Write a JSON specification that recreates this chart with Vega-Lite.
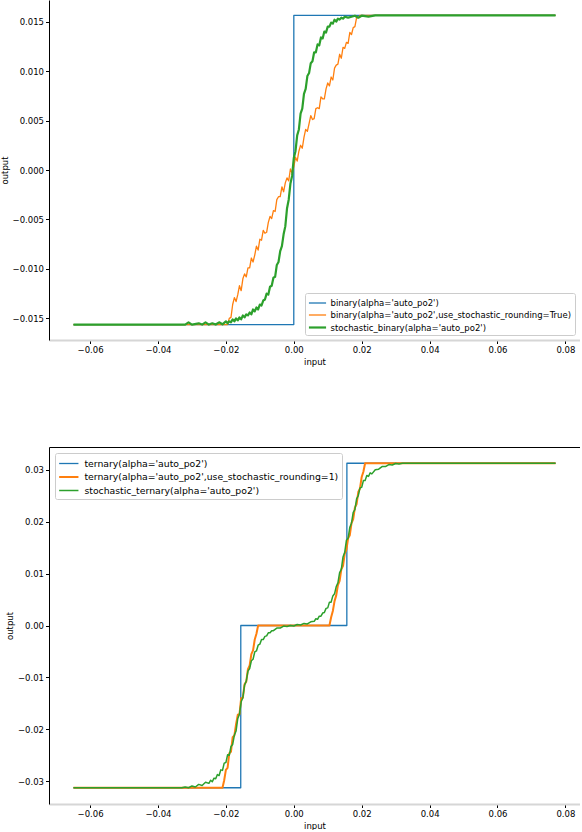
{
  "$schema": "https://vega.github.io/schema/vega-lite/v6.json",
  "padding": 0,
  "background": "white",
  "spacing": 107,
  "bounds": "flush",
  "config": {
    "font": "DejaVu Sans",
    "view": {"stroke": null},
    "line": {"strokeJoin": "round"},
    "axis": {
      "labelFont": "DejaVu Sans", "labelFontSize": 8.5, "labelColor": "black",
      "titleFont": "DejaVu Sans", "titleFontSize": 8.5, "titleFontWeight": "normal", "titleColor": "black",
      "grid": false, "tickColor": "black", "tickSize": 3.5, "tickWidth": 1,
      "domainColor": "black", "labelPadding": 2
    },
    "axisX": {"titlePadding": 3},
    "axisY": {"titlePadding": 3},
    "legend": {
      "title": null,
      "labelFont": "DejaVu Sans", "labelColor": "black", "labelLimit": 500,
      "fillColor": "rgba(255,255,255,0.85)", "strokeColor": "#cccccc", "cornerRadius": 2,
      "padding": 3, "offset": 5.5
    }
  },
  "resolve": {
    "scale": {"color": "independent", "strokeWidth": "independent", "x": "independent", "y": "independent"},
    "legend": {"color": "independent", "strokeWidth": "independent"}
  },
  "datasets": {
    "names": [
      {"k": "ba", "name": "binary(alpha='auto_po2')"},
      {"k": "bs", "name": "binary(alpha='auto_po2',use_stochastic_rounding=True)"},
      {"k": "sb", "name": "stochastic_binary(alpha='auto_po2')"},
      {"k": "ta", "name": "ternary(alpha='auto_po2')"},
      {"k": "ts", "name": "ternary(alpha='auto_po2',use_stochastic_rounding=1)"},
      {"k": "st", "name": "stochastic_ternary(alpha='auto_po2')"}
    ],
    "top": [
      {"k":"ba","x":-0.0649,"y":-0.015625},{"k":"ba","x":0.0,"y":-0.015625},{"k":"ba","x":0.00001,"y":0.015625},{"k":"ba","x":0.0771,"y":0.015625},
      {"k":"bs","x":-0.0649,"y":-0.015625},{"k":"bs","x":-0.0195,"y":-0.015625},{"k":"bs","x":-0.0190,"y":-0.0150},{"k":"bs","x":-0.0185,"y":-0.0149},{"k":"bs","x":-0.0180,"y":-0.0136},{"k":"bs","x":-0.0175,"y":-0.0129},{"k":"bs","x":-0.0170,"y":-0.0133},{"k":"bs","x":-0.0165,"y":-0.0126},{"k":"bs","x":-0.0160,"y":-0.0117},{"k":"bs","x":-0.0155,"y":-0.0122},{"k":"bs","x":-0.0150,"y":-0.0110},{"k":"bs","x":-0.0145,"y":-0.0105},{"k":"bs","x":-0.0140,"y":-0.0108},{"k":"bs","x":-0.0135,"y":-0.0099},{"k":"bs","x":-0.0130,"y":-0.0099},{"k":"bs","x":-0.0125,"y":-0.0089},{"k":"bs","x":-0.0120,"y":-0.0093},{"k":"bs","x":-0.0115,"y":-0.0086},{"k":"bs","x":-0.0110,"y":-0.0077},{"k":"bs","x":-0.0105,"y":-0.0081},{"k":"bs","x":-0.0100,"y":-0.0070},{"k":"bs","x":-0.0095,"y":-0.0071},{"k":"bs","x":-0.0090,"y":-0.0061},{"k":"bs","x":-0.0085,"y":-0.0064},{"k":"bs","x":-0.0080,"y":-0.0063},{"k":"bs","x":-0.0075,"y":-0.0053},{"k":"bs","x":-0.0070,"y":-0.0047},{"k":"bs","x":-0.0065,"y":-0.0049},{"k":"bs","x":-0.0060,"y":-0.0041},{"k":"bs","x":-0.0055,"y":-0.0042},{"k":"bs","x":-0.0050,"y":-0.0030},{"k":"bs","x":-0.0045,"y":-0.0027},{"k":"bs","x":-0.0040,"y":-0.0027},{"k":"bs","x":-0.0035,"y":-0.0017},{"k":"bs","x":-0.0030,"y":-0.0022},{"k":"bs","x":-0.0025,"y":-0.0013},{"k":"bs","x":-0.0020,"y":-0.0008},{"k":"bs","x":-0.0015,"y":-0.0011},{"k":"bs","x":-0.0010,"y":0.0001},{"k":"bs","x":-0.0005,"y":-0.0003},{"k":"bs","x":0.0000,"y":0.0003},{"k":"bs","x":0.0005,"y":0.0013},{"k":"bs","x":0.0010,"y":0.0009},{"k":"bs","x":0.0015,"y":0.0019},{"k":"bs","x":0.0020,"y":0.0025},{"k":"bs","x":0.0025,"y":0.0022},{"k":"bs","x":0.0030,"y":0.0033},{"k":"bs","x":0.0035,"y":0.0041},{"k":"bs","x":0.0040,"y":0.0039},{"k":"bs","x":0.0045,"y":0.0047},{"k":"bs","x":0.0050,"y":0.0055},{"k":"bs","x":0.0055,"y":0.0051},{"k":"bs","x":0.0060,"y":0.0052},{"k":"bs","x":0.0065,"y":0.0062},{"k":"bs","x":0.0070,"y":0.0063},{"k":"bs","x":0.0075,"y":0.0062},{"k":"bs","x":0.0080,"y":0.0074},{"k":"bs","x":0.0085,"y":0.0072},{"k":"bs","x":0.0090,"y":0.0072},{"k":"bs","x":0.0095,"y":0.0082},{"k":"bs","x":0.0100,"y":0.0088},{"k":"bs","x":0.0105,"y":0.0085},{"k":"bs","x":0.0110,"y":0.0094},{"k":"bs","x":0.0115,"y":0.0091},{"k":"bs","x":0.0120,"y":0.0103},{"k":"bs","x":0.0125,"y":0.0106},{"k":"bs","x":0.0130,"y":0.0107},{"k":"bs","x":0.0135,"y":0.0117},{"k":"bs","x":0.0140,"y":0.0113},{"k":"bs","x":0.0145,"y":0.0124},{"k":"bs","x":0.0150,"y":0.0123},{"k":"bs","x":0.0155,"y":0.0129},{"k":"bs","x":0.0160,"y":0.0128},{"k":"bs","x":0.0165,"y":0.0139},{"k":"bs","x":0.0170,"y":0.0137},{"k":"bs","x":0.0175,"y":0.0144},{"k":"bs","x":0.0180,"y":0.0145},{"k":"bs","x":0.0185,"y":0.0154},{"k":"bs","x":0.0190,"y":0.0154},{"k":"bs","x":0.0195,"y":0.015625},{"k":"bs","x":0.0771,"y":0.015625},
      {"k":"sb","x":-0.0649,"y":-0.015625},{"k":"sb","x":-0.0320,"y":-0.015625},{"k":"sb","x":-0.0310,"y":-0.0154},{"k":"sb","x":-0.0300,"y":-0.015625},{"k":"sb","x":-0.0280,"y":-0.0155},{"k":"sb","x":-0.0270,"y":-0.015625},{"k":"sb","x":-0.0260,"y":-0.0154},{"k":"sb","x":-0.0250,"y":-0.015625},{"k":"sb","x":-0.0240,"y":-0.0155},{"k":"sb","x":-0.0230,"y":-0.015625},{"k":"sb","x":-0.0220,"y":-0.0154},{"k":"sb","x":-0.0210,"y":-0.0156},{"k":"sb","x":-0.0200,"y":-0.0153},{"k":"sb","x":-0.0195,"y":-0.0155},{"k":"sb","x":-0.0190,"y":-0.0153},{"k":"sb","x":-0.0185,"y":-0.0154},{"k":"sb","x":-0.0180,"y":-0.0151},{"k":"sb","x":-0.0175,"y":-0.0153},{"k":"sb","x":-0.0170,"y":-0.0150},{"k":"sb","x":-0.0165,"y":-0.0152},{"k":"sb","x":-0.0160,"y":-0.0149},{"k":"sb","x":-0.0155,"y":-0.0151},{"k":"sb","x":-0.0150,"y":-0.0147},{"k":"sb","x":-0.0145,"y":-0.0149},{"k":"sb","x":-0.0140,"y":-0.0146},{"k":"sb","x":-0.0135,"y":-0.0147},{"k":"sb","x":-0.0130,"y":-0.0144},{"k":"sb","x":-0.0125,"y":-0.0146},{"k":"sb","x":-0.0120,"y":-0.0141},{"k":"sb","x":-0.0115,"y":-0.0143},{"k":"sb","x":-0.0110,"y":-0.0139},{"k":"sb","x":-0.0105,"y":-0.0141},{"k":"sb","x":-0.0100,"y":-0.0136},{"k":"sb","x":-0.0095,"y":-0.0137},{"k":"sb","x":-0.0090,"y":-0.0132},{"k":"sb","x":-0.0085,"y":-0.0131},{"k":"sb","x":-0.0080,"y":-0.0125},{"k":"sb","x":-0.0075,"y":-0.0126},{"k":"sb","x":-0.0070,"y":-0.0118},{"k":"sb","x":-0.0065,"y":-0.0117},{"k":"sb","x":-0.0060,"y":-0.0109},{"k":"sb","x":-0.0055,"y":-0.0108},{"k":"sb","x":-0.0050,"y":-0.0096},{"k":"sb","x":-0.0045,"y":-0.0093},{"k":"sb","x":-0.0040,"y":-0.0082},{"k":"sb","x":-0.0035,"y":-0.0077},{"k":"sb","x":-0.0030,"y":-0.0065},{"k":"sb","x":-0.0025,"y":-0.0057},{"k":"sb","x":-0.0020,"y":-0.0039},{"k":"sb","x":-0.0015,"y":-0.0030},{"k":"sb","x":-0.0010,"y":-0.0014},{"k":"sb","x":-0.0005,"y":-0.0006},{"k":"sb","x":0.0000,"y":0.0012},{"k":"sb","x":0.0005,"y":0.0019},{"k":"sb","x":0.0010,"y":0.0035},{"k":"sb","x":0.0015,"y":0.0041},{"k":"sb","x":0.0020,"y":0.0057},{"k":"sb","x":0.0025,"y":0.0062},{"k":"sb","x":0.0030,"y":0.0077},{"k":"sb","x":0.0035,"y":0.0082},{"k":"sb","x":0.0040,"y":0.0095},{"k":"sb","x":0.0045,"y":0.0098},{"k":"sb","x":0.0050,"y":0.0108},{"k":"sb","x":0.0055,"y":0.0110},{"k":"sb","x":0.0060,"y":0.0119},{"k":"sb","x":0.0065,"y":0.0119},{"k":"sb","x":0.0070,"y":0.0127},{"k":"sb","x":0.0075,"y":0.0126},{"k":"sb","x":0.0080,"y":0.0134},{"k":"sb","x":0.0085,"y":0.0133},{"k":"sb","x":0.0090,"y":0.0140},{"k":"sb","x":0.0095,"y":0.0139},{"k":"sb","x":0.0100,"y":0.0145},{"k":"sb","x":0.0105,"y":0.0145},{"k":"sb","x":0.0110,"y":0.0149},{"k":"sb","x":0.0115,"y":0.0148},{"k":"sb","x":0.0120,"y":0.0152},{"k":"sb","x":0.0125,"y":0.0150},{"k":"sb","x":0.0130,"y":0.0153},{"k":"sb","x":0.0135,"y":0.0152},{"k":"sb","x":0.0140,"y":0.0154},{"k":"sb","x":0.0145,"y":0.0153},{"k":"sb","x":0.0150,"y":0.0155},{"k":"sb","x":0.0160,"y":0.0154},{"k":"sb","x":0.0170,"y":0.0155},{"k":"sb","x":0.0180,"y":0.0156},{"k":"sb","x":0.0190,"y":0.0154},{"k":"sb","x":0.0200,"y":0.0156},{"k":"sb","x":0.0220,"y":0.0155},{"k":"sb","x":0.0240,"y":0.015625},{"k":"sb","x":0.0771,"y":0.015625}
    ],
    "bottom": [
      {"k":"ta","x":-0.0649,"y":-0.03125},{"k":"ta","x":-0.015625,"y":-0.03125},{"k":"ta","x":-0.01561,"y":0.0},{"k":"ta","x":0.015625,"y":0.0},{"k":"ta","x":0.01564,"y":0.03125},{"k":"ta","x":0.0771,"y":0.03125},
      {"k":"ts","x":-0.0649,"y":-0.03125},{"k":"ts","x":-0.0210,"y":-0.03125},{"k":"ts","x":-0.0205,"y":-0.0298},{"k":"ts","x":-0.0200,"y":-0.0278},{"k":"ts","x":-0.0195,"y":-0.0274},{"k":"ts","x":-0.0190,"y":-0.0246},{"k":"ts","x":-0.0185,"y":-0.0243},{"k":"ts","x":-0.0180,"y":-0.0215},{"k":"ts","x":-0.0175,"y":-0.0212},{"k":"ts","x":-0.0170,"y":-0.0190},{"k":"ts","x":-0.0165,"y":-0.0172},{"k":"ts","x":-0.0160,"y":-0.0171},{"k":"ts","x":-0.0155,"y":-0.0140},{"k":"ts","x":-0.0150,"y":-0.0139},{"k":"ts","x":-0.0145,"y":-0.0113},{"k":"ts","x":-0.0140,"y":-0.0108},{"k":"ts","x":-0.0135,"y":-0.0084},{"k":"ts","x":-0.0130,"y":-0.0077},{"k":"ts","x":-0.0125,"y":-0.0055},{"k":"ts","x":-0.0120,"y":-0.0048},{"k":"ts","x":-0.0115,"y":-0.0027},{"k":"ts","x":-0.0110,"y":-0.0016},{"k":"ts","x":-0.0105,"y":0.0},{"k":"ts","x":0.0105,"y":0.0},{"k":"ts","x":0.0110,"y":0.0016},{"k":"ts","x":0.0115,"y":0.0028},{"k":"ts","x":0.0120,"y":0.0047},{"k":"ts","x":0.0125,"y":0.0058},{"k":"ts","x":0.0130,"y":0.0078},{"k":"ts","x":0.0135,"y":0.0086},{"k":"ts","x":0.0140,"y":0.0108},{"k":"ts","x":0.0145,"y":0.0115},{"k":"ts","x":0.0150,"y":0.0138},{"k":"ts","x":0.0155,"y":0.0146},{"k":"ts","x":0.0160,"y":0.0168},{"k":"ts","x":0.0165,"y":0.0174},{"k":"ts","x":0.0170,"y":0.0197},{"k":"ts","x":0.0175,"y":0.0205},{"k":"ts","x":0.0180,"y":0.0227},{"k":"ts","x":0.0185,"y":0.0234},{"k":"ts","x":0.0190,"y":0.0257},{"k":"ts","x":0.0195,"y":0.0264},{"k":"ts","x":0.0200,"y":0.0286},{"k":"ts","x":0.0205,"y":0.0296},{"k":"ts","x":0.0210,"y":0.03125},{"k":"ts","x":0.0771,"y":0.03125},
      {"k":"st","x":-0.0649,"y":-0.03125},{"k":"st","x":-0.0330,"y":-0.03125},{"k":"st","x":-0.0320,"y":-0.0311},{"k":"st","x":-0.0310,"y":-0.03125},{"k":"st","x":-0.0300,"y":-0.0309},{"k":"st","x":-0.0290,"y":-0.0311},{"k":"st","x":-0.0280,"y":-0.0306},{"k":"st","x":-0.0270,"y":-0.0308},{"k":"st","x":-0.0260,"y":-0.0302},{"k":"st","x":-0.0250,"y":-0.0304},{"k":"st","x":-0.0245,"y":-0.0298},{"k":"st","x":-0.0240,"y":-0.0301},{"k":"st","x":-0.0235,"y":-0.0294},{"k":"st","x":-0.0230,"y":-0.0295},{"k":"st","x":-0.0225,"y":-0.0287},{"k":"st","x":-0.0220,"y":-0.0289},{"k":"st","x":-0.0215,"y":-0.0278},{"k":"st","x":-0.0210,"y":-0.0279},{"k":"st","x":-0.0205,"y":-0.0265},{"k":"st","x":-0.0200,"y":-0.0264},{"k":"st","x":-0.0195,"y":-0.0249},{"k":"st","x":-0.0190,"y":-0.0250},{"k":"st","x":-0.0185,"y":-0.0233},{"k":"st","x":-0.0180,"y":-0.0229},{"k":"st","x":-0.0175,"y":-0.0211},{"k":"st","x":-0.0170,"y":-0.0203},{"k":"st","x":-0.0165,"y":-0.0179},{"k":"st","x":-0.0160,"y":-0.0171},{"k":"st","x":-0.0155,"y":-0.0147},{"k":"st","x":-0.0150,"y":-0.0139},{"k":"st","x":-0.0145,"y":-0.0115},{"k":"st","x":-0.0140,"y":-0.0107},{"k":"st","x":-0.0135,"y":-0.0088},{"k":"st","x":-0.0130,"y":-0.0083},{"k":"st","x":-0.0125,"y":-0.0068},{"k":"st","x":-0.0120,"y":-0.0065},{"k":"st","x":-0.0115,"y":-0.0051},{"k":"st","x":-0.0110,"y":-0.0049},{"k":"st","x":-0.0105,"y":-0.0038},{"k":"st","x":-0.0100,"y":-0.0036},{"k":"st","x":-0.0095,"y":-0.0027},{"k":"st","x":-0.0090,"y":-0.0027},{"k":"st","x":-0.0085,"y":-0.0021},{"k":"st","x":-0.0080,"y":-0.0020},{"k":"st","x":-0.0075,"y":-0.0014},{"k":"st","x":-0.0070,"y":-0.0014},{"k":"st","x":-0.0065,"y":-0.0010},{"k":"st","x":-0.0060,"y":-0.0010},{"k":"st","x":-0.0050,"y":-0.0005},{"k":"st","x":-0.0040,"y":-0.0005},{"k":"st","x":-0.0030,"y":-0.0001},{"k":"st","x":-0.0020,"y":-0.0002},{"k":"st","x":-0.0010,"y":0.0},{"k":"st","x":0.0000,"y":-0.0001},{"k":"st","x":0.0010,"y":0.0002},{"k":"st","x":0.0020,"y":0.0001},{"k":"st","x":0.0030,"y":0.0004},{"k":"st","x":0.0040,"y":0.0003},{"k":"st","x":0.0050,"y":0.0007},{"k":"st","x":0.0060,"y":0.0008},{"k":"st","x":0.0065,"y":0.0013},{"k":"st","x":0.0070,"y":0.0012},{"k":"st","x":0.0075,"y":0.0018},{"k":"st","x":0.0080,"y":0.0018},{"k":"st","x":0.0085,"y":0.0024},{"k":"st","x":0.0090,"y":0.0025},{"k":"st","x":0.0095,"y":0.0033},{"k":"st","x":0.0100,"y":0.0034},{"k":"st","x":0.0105,"y":0.0045},{"k":"st","x":0.0110,"y":0.0045},{"k":"st","x":0.0115,"y":0.0057},{"k":"st","x":0.0120,"y":0.0061},{"k":"st","x":0.0125,"y":0.0075},{"k":"st","x":0.0130,"y":0.0082},{"k":"st","x":0.0135,"y":0.0102},{"k":"st","x":0.0140,"y":0.0108},{"k":"st","x":0.0145,"y":0.0132},{"k":"st","x":0.0150,"y":0.0141},{"k":"st","x":0.0155,"y":0.0164},{"k":"st","x":0.0160,"y":0.0168},{"k":"st","x":0.0165,"y":0.0189},{"k":"st","x":0.0170,"y":0.0197},{"k":"st","x":0.0175,"y":0.0218},{"k":"st","x":0.0180,"y":0.0223},{"k":"st","x":0.0185,"y":0.0244},{"k":"st","x":0.0190,"y":0.0250},{"k":"st","x":0.0195,"y":0.0265},{"k":"st","x":0.0200,"y":0.0266},{"k":"st","x":0.0205,"y":0.0279},{"k":"st","x":0.0210,"y":0.0279},{"k":"st","x":0.0215,"y":0.0289},{"k":"st","x":0.0220,"y":0.0287},{"k":"st","x":0.0225,"y":0.0294},{"k":"st","x":0.0230,"y":0.0292},{"k":"st","x":0.0240,"y":0.0300},{"k":"st","x":0.0250,"y":0.0301},{"k":"st","x":0.0260,"y":0.0306},{"k":"st","x":0.0270,"y":0.0306},{"k":"st","x":0.0280,"y":0.0310},{"k":"st","x":0.0290,"y":0.0309},{"k":"st","x":0.0300,"y":0.0312},{"k":"st","x":0.0310,"y":0.0311},{"k":"st","x":0.0320,"y":0.03125},{"k":"st","x":0.0771,"y":0.03125}
    ]
  },
  "vconcat": [
    {
      "width": 531,
      "height": 340,
      "data": {"name": "top"},
      "transform": [{"lookup": "k", "from": {"data": {"name": "names"}, "key": "k", "fields": ["name"]}}],
      "layer": [
        {
          "mark": {"type": "line"},
          "encoding": {
            "x": {"field": "x", "type": "quantitative",
                  "scale": {"domain": [-0.0721, 0.0843], "nice": false, "zero": false},
                  "axis": {"orient": "bottom", "title": "input", "values": [-0.06, -0.04, -0.02, 0, 0.02, 0.04, 0.06, 0.08], "format": ".2f", "domainColor": "#d6d6d6", "domainWidth": 2}},
            "y": {"field": "y", "type": "quantitative",
                  "scale": {"domain": [-0.0171875, 0.0171875], "nice": false, "zero": false},
                  "axis": {"orient": "left", "title": "output", "values": [-0.015, -0.01, -0.005, 0, 0.005, 0.01, 0.015], "format": ".3f"}},
            "color": {"field": "name", "type": "nominal",
                      "scale": {"domain": ["binary(alpha='auto_po2')", "binary(alpha='auto_po2',use_stochastic_rounding=True)", "stochastic_binary(alpha='auto_po2')"],
                                "range": ["#1f77b4", "#ff7f0e", "#2ca02c"]},
                      "legend": {"orient": "bottom-right", "labelFontSize": 8.5, "symbolType": "M-1.4,0H1.4", "symbolSize": 150, "symbolOffset": 2, "rowPadding": -1, "labelOffset": 5.5}},
            "strokeWidth": {"field": "name", "type": "nominal",
                            "scale": {"type": "ordinal", "domain": ["binary(alpha='auto_po2')", "binary(alpha='auto_po2',use_stochastic_rounding=True)", "stochastic_binary(alpha='auto_po2')"],
                                      "range": [1.3, 1.3, 2.2]},
                            "legend": {"orient": "bottom-right", "labelFontSize": 8.5, "symbolType": "M-1.4,0H1.4", "symbolSize": 150, "symbolOffset": 2, "rowPadding": -1, "labelOffset": 5.5}}
          }
        },
        {
          "mark": {"type": "line", "opacity": 0},
          "encoding": {
            "x": {"field": "x", "type": "quantitative", "axis": null},
            "y": {"field": "y", "type": "quantitative",
                  "axis": {"orient": "right", "labels": false, "ticks": false, "title": null, "domainColor": "black", "domainWidth": 1}}
          }
        }
      ],
      "resolve": {"axis": {"y": "independent", "x": "independent"}}
    },
    {
      "width": 531,
      "height": 357,
      "data": {"name": "bottom"},
      "transform": [{"lookup": "k", "from": {"data": {"name": "names"}, "key": "k", "fields": ["name"]}}],
      "layer": [
        {
          "mark": {"type": "line"},
          "encoding": {
            "x": {"field": "x", "type": "quantitative",
                  "scale": {"domain": [-0.0721, 0.0843], "nice": false, "zero": false},
                  "axis": {"orient": "bottom", "title": "input", "values": [-0.06, -0.04, -0.02, 0, 0.02, 0.04, 0.06, 0.08], "format": ".2f", "domainColor": "#d6d6d6", "domainWidth": 2}},
            "y": {"field": "y", "type": "quantitative",
                  "scale": {"domain": [-0.034375, 0.034375], "nice": false, "zero": false},
                  "axis": {"orient": "left", "title": "output", "values": [-0.03, -0.02, -0.01, 0, 0.01, 0.02, 0.03], "format": ".2f"}},
            "color": {"field": "name", "type": "nominal",
                      "scale": {"domain": ["ternary(alpha='auto_po2')", "ternary(alpha='auto_po2',use_stochastic_rounding=1)", "stochastic_ternary(alpha='auto_po2')"],
                                "range": ["#1f77b4", "#ff7f0e", "#2ca02c"]},
                      "legend": {"orient": "top-left", "labelFontSize": 9.3, "symbolType": "M-1.48,0H1.48", "symbolSize": 170, "symbolOffset": 2.8, "rowPadding": -2.2, "labelOffset": 7.6}},
            "strokeWidth": {"field": "name", "type": "nominal",
                            "scale": {"type": "ordinal", "domain": ["ternary(alpha='auto_po2')", "ternary(alpha='auto_po2',use_stochastic_rounding=1)", "stochastic_ternary(alpha='auto_po2')"],
                                      "range": [1.3, 2.0, 1.5]},
                            "legend": {"orient": "top-left", "labelFontSize": 9.3, "symbolType": "M-1.48,0H1.48", "symbolSize": 170, "symbolOffset": 2.8, "rowPadding": -2.2, "labelOffset": 7.6}}
          }
        },
        {
          "mark": {"type": "line", "opacity": 0},
          "encoding": {
            "x": {"field": "x", "type": "quantitative",
                  "axis": {"orient": "top", "labels": false, "ticks": false, "title": null, "domainColor": "black", "domainWidth": 1}},
            "y": {"field": "y", "type": "quantitative",
                  "axis": {"orient": "right", "labels": false, "ticks": false, "title": null, "domainColor": "black", "domainWidth": 1}}
          }
        }
      ],
      "resolve": {"axis": {"y": "independent", "x": "independent"}}
    }
  ]
}
